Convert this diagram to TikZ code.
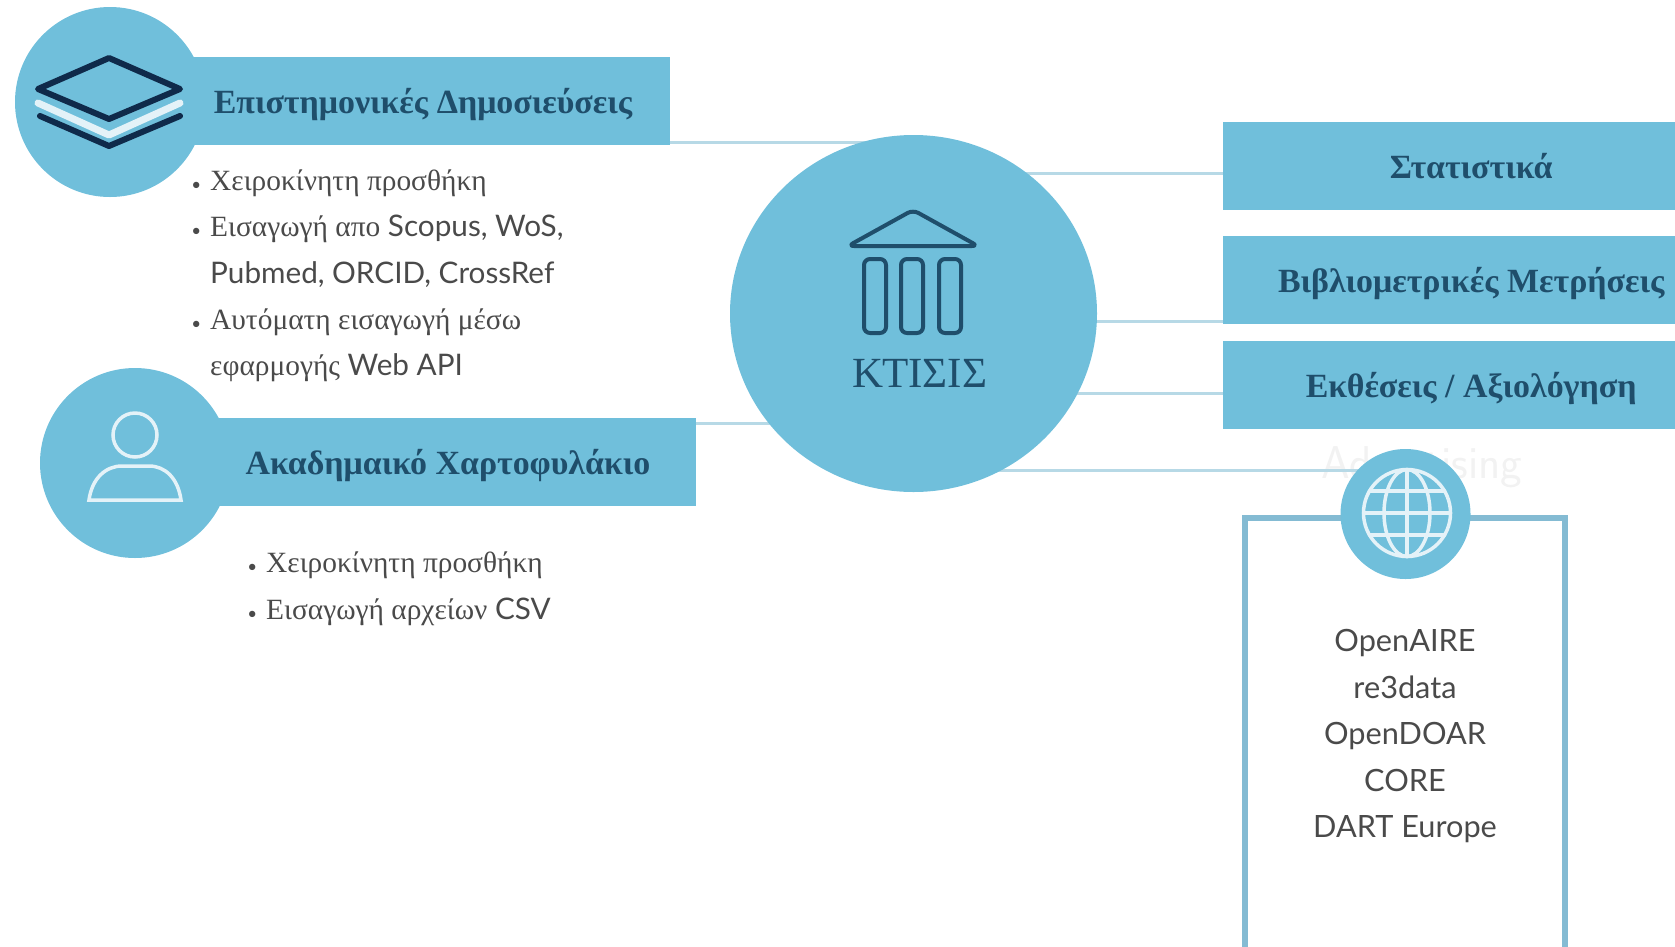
\documentclass[tikz,border=0pt]{standalone}
\usepackage{fontspec}
\setmainfont{Lato}
\newfontfamily\grfont{Liberation Serif}
\newfontfamily\grbody[Scale=0.99]{Liberation Serif}
\newcommand{\grtext}[1]{{\grbody #1}}
\newcommand{\bul}{\llap{{\fontsize{17}{17}\selectfont •}\hspace{9pt}}}
\usepackage{tikz}
\usetikzlibrary{positioning,shapes.geometric,backgrounds}
\definecolor{skyfill}{HTML}{70BFDB}
\definecolor{linkcol}{HTML}{B7D9E6}
\definecolor{framecol}{HTML}{84BBD3}
\definecolor{navy}{HTML}{0F2A4A}
\definecolor{headcol}{HTML}{1F4E6B}
\definecolor{pale}{HTML}{E4F2F8}
\definecolor{bodycol}{HTML}{4A4A4A}
\tikzset{
  disc/.style={circle,fill=skyfill,inner sep=0pt},
  bar/.style={fill=skyfill,inner sep=0pt,minimum height=88pt,text=headcol,text height=33.5pt,text depth=8pt,font=\grfont\bfseries\fontsize{33.9}{40}\selectfont},
  rbar/.style={bar,minimum width=496pt,anchor=west,text height=33pt},
  link/.style={draw=linkcol,line width=3pt},
  items/.style={align=left,inner sep=0pt,anchor=north west,text=bodycol,font=\fontsize{29.7}{46.3}\selectfont},
  navyicon/.style={draw=navy,line width=6pt,line join=round,line cap=round},
  paleicon/.style={draw=pale,line width=3.5pt,line cap=round},
  temple/.style={draw=headcol,line width=4pt,line join=round}
}
\begin{document}
\begin{tikzpicture}[x=1pt,y=-1pt]
  \clip (0,0) rectangle (1675,946);
  \draw node[bar,minimum width=494pt] (pubbar) at (423,100.5) {Επιστημονικές Δημοσιεύσεις};
  \draw node[disc,minimum size=190pt] (pubdisc) at (110,102) {};
  \draw node[bar,minimum width=496pt] (folbar) at (448,461.5) {Ακαδημαικό Χαρτοφυλάκιο};
  \draw node[disc,minimum size=190pt] (foldisc) at (135,463) {};
  \draw node[ellipse,fill=skyfill,inner sep=0pt,minimum width=367pt,minimum height=357pt] (ktisis) at (913.5,313.5) {};
  \draw node[rbar] (statbar) at (1223,166) {Στατιστικά};
  \draw node[rbar,below=26pt of statbar] (metbar) {Βιβλιομετρικές Μετρήσεις};
  \draw node[rbar,below=16pt of metbar] (repbar) {Εκθέσεις / Αξιολόγηση};
  \draw node[draw=framecol,line width=6pt,minimum width=320pt,minimum height=442pt,inner sep=0pt] (srcbox) at (1405,739) {};
  \draw node[disc,minimum size=130pt] (globe) at (1405.5,514) {};

  \begin{scope}[on background layer]
    \draw node[text=black!5,font=\fontsize{46}{46}\selectfont\sffamily] (adv) at (1422,467) {Advertising};
    \draw[link] ([yshift=2pt]pubbar.south east) -- ([yshift=2pt]pubbar.south east -| ktisis.center);
    \draw[link] ([yshift=-6pt]folbar.north east) -- ([yshift=-6pt]folbar.north east -| ktisis.center);
    \draw[link] ([yshift=-52pt]statbar.north west) -- ([yshift=-52pt]statbar.north west -| ktisis.center);
    \draw[link] ([yshift=3pt]metbar.south west) -- ([yshift=3pt]metbar.south west -| ktisis.center);
    \draw[link] ([yshift=-9pt]repbar.west) -- ([yshift=-9pt]repbar.west -| ktisis.center);
    \draw[link] ([yshift=44pt]globe.center) -- ([yshift=44pt]globe.center -| ktisis.center);
  \end{scope}

  \draw node[items] (publist) at (210,169.5) {\bul\grtext{Χειροκίνητη προσθήκη}\\
    \bul\grtext{Εισαγωγή απο} Scopus, WoS,\\
    Pubmed, ORCID, CrossRef\\
    \bul\grtext{Αυτόματη εισαγωγή μέσω}\\
    \grtext{εφαρμογής} Web API};
  \draw node[items] (follist) at (266,552) {\bul\grtext{Χειροκίνητη προσθήκη}\\
    \bul\grtext{Εισαγωγή αρχείων} CSV};
  \draw node[align=center,inner sep=0pt,text=bodycol,font=\fontsize{30.7}{46.5}\selectfont] (srclist) at (1405,736)
    {OpenAIRE\\re3data\\OpenDOAR\\CORE\\DART Europe};
  \draw node[text=headcol,inner sep=0pt,font=\grfont\fontsize{43}{43}\selectfont] (ktname) at (920,373) {ΚΤΙΣΙΣ};

  \draw[pale,line width=7pt,line cap=round,line join=round] (38,103) -- (109,135) -- (180,103);
  \draw[navyicon] (109,58) -- (180,89) -- (109,119) -- (38,89) -- cycle;
  \draw[navyicon] (40,116) -- (109,146) -- (180,116);

  \draw[paleicon] (135,435) circle (22pt);
  \draw[paleicon,line join=miter] (89,500) .. controls (92,478) and (106,466) .. (122,466) -- (149,466) .. controls (165,466) and (178,478) .. (181,500) -- cycle;

  \draw[temple,rounded corners=6pt] (913,210) -- (978,246) -- (848,246) -- cycle;
  \foreach \cx in {875,912,950}
    \draw[temple,rounded corners=6pt] (\cx-11,259) rectangle (\cx+11,333);

  \draw[paleicon] (1407,513) circle (43.5pt);
  \draw[paleicon] (1407,513) ellipse (23pt and 43.5pt);
  \draw[paleicon] (1407,469.5) -- (1407,556.5);
  \foreach \dy in {-22,0,22}
    \draw[paleicon] ({1407-sqrt(43.5*43.5-\dy*\dy)},513+\dy) -- ({1407+sqrt(43.5*43.5-\dy*\dy)},513+\dy);
\end{tikzpicture}
\end{document}
